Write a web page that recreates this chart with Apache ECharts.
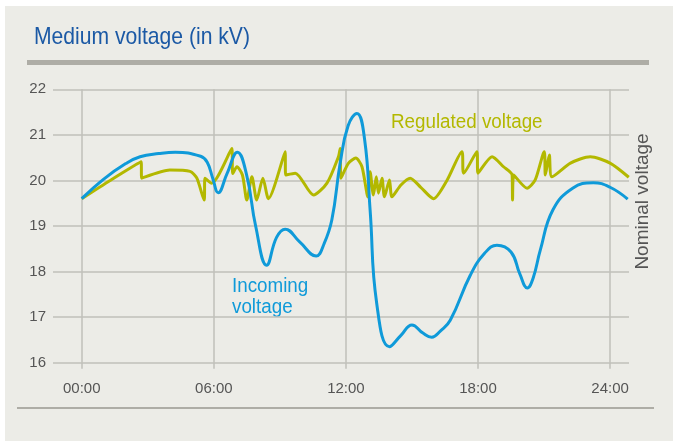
<!DOCTYPE html>
<html><head><meta charset="utf-8">
<script src="https://cdn.jsdelivr.net/npm/echarts@6/dist/echarts.min.js"></script>
<style>html,body{margin:0;padding:0;background:#fff}#c{width:673px;height:441px}</style>
</head><body><div id="c"></div>
<script>
// Time in hours, voltage in kV
const hourTicks = [0, 6, 12, 18, 24];
const tickLabels = ['00:00', '06:00', '12:00', '18:00', '24:00'];
const incomingHours = [0, 1, 2, 2.65, 3.5, 4.25, 5.4, 5.7, 5.95, 6.2, 6.6, 7.07, 7.5, 7.9, 8.4, 8.85, 9.24, 9.9, 10.65, 11.0, 11.36, 11.74, 12.1, 12.5, 12.85, 13.1, 13.4, 13.98, 14.5, 15.0, 15.5, 15.9, 16.3, 16.74, 17.65, 18.3, 18.86, 19.5, 19.9, 20.24, 20.5, 20.83, 21.4, 22.3, 23.24, 24.0, 24.8];
const incomingValues = [19.6, 20.03, 20.37, 20.52, 20.59, 20.62, 20.53, 20.4, 20.05, 19.73, 20.15, 20.62, 20.1, 19.0, 18.14, 18.75, 18.93, 18.65, 18.34, 18.6, 19.13, 20.38, 21.2, 21.47, 20.9, 19.35, 17.3, 16.35, 16.6, 16.83, 16.65, 16.56, 16.7, 16.93, 17.92, 18.4, 18.58, 18.43, 17.95, 17.64, 17.85, 18.47, 19.35, 19.83, 19.95, 19.85, 19.59];
const regulatedHours = [0, 1.29, 2.7, 2.72, 4.0, 4.92, 5.23, 5.56, 5.6, 5.9, 6.82, 6.86, 7.05, 7.3, 7.5, 7.73, 7.95, 8.23, 8.48, 9.24, 9.26, 9.7, 10.53, 11.14, 11.66, 11.74, 11.77, 12.12, 12.45, 12.73, 13.0, 13.1, 13.25, 13.38, 13.48, 13.64, 13.75, 13.98, 14.09, 14.5, 14.92, 15.4, 15.98, 16.59, 17.27, 17.35, 17.95, 18.0, 18.64, 19.16, 19.55, 19.57, 19.62, 20.23, 20.6, 21.01, 21.06, 21.24, 21.36, 22.2, 23.1, 24.0, 24.85];
const regulatedValues = [19.6, 20.0, 20.41, 20.05, 20.23, 20.2, 20.05, 19.57, 20.05, 19.94, 20.7, 20.15, 20.3, 20.12, 19.57, 20.08, 19.57, 20.05, 19.6, 20.63, 20.12, 20.16, 19.68, 19.94, 20.52, 20.7, 20.05, 20.38, 20.49, 20.3, 19.64, 20.19, 19.68, 20.08, 19.72, 20.05, 19.64, 20.01, 19.64, 19.9, 20.05, 19.85, 19.6, 20.0, 20.63, 20.16, 20.63, 20.16, 20.52, 20.3, 20.12, 19.57, 20.12, 19.83, 20.01, 20.63, 20.12, 20.56, 20.08, 20.38, 20.52, 20.38, 20.07];

const FONT = '"Liberation Sans", Arimo, sans-serif';
const BLUE = '#0f9ad9';
const OLIVE = '#b3b800';
const GRID = '#c0c0ba';
const TXT = '#555555';

const chart = echarts.init(document.getElementById('c'));
chart.setOption({
  backgroundColor: '#ffffff',
  animation: false,
  graphic: [
    {type: 'rect', left: 5, top: 6, shape: {width: 668, height: 435}, style: {fill: '#ecece7'}, z: -10},
    {type: 'text', x: 34, y: 37, scaleX: 0.88, style: {text: 'Medium voltage (in kV)', fill: '#1b59a5', font: '24px ' + FONT, verticalAlign: 'middle'}},
    {type: 'rect', left: 27, top: 60, shape: {width: 622, height: 5}, style: {fill: '#aeada6'}},
    {type: 'rect', left: 17, top: 407, shape: {width: 637, height: 2}, style: {fill: '#aeada6'}},
    {type: 'text', x: 391, y: 122, scaleX: 0.94, style: {text: 'Regulated voltage', fill: OLIVE, font: '20px ' + FONT, verticalAlign: 'middle'}},
    {type: 'text', x: 232, y: 286, scaleX: 0.94, style: {text: 'Incoming', fill: BLUE, font: '20px ' + FONT, verticalAlign: 'middle'}},
    {type: 'text', x: 232, y: 307, scaleX: 0.94, style: {text: 'voltage', fill: BLUE, font: '20px ' + FONT, verticalAlign: 'middle'}},
    {type: 'text', x: 643, y: 201.5, rotation: Math.PI / 2, style: {text: 'Nominal voltage', fill: TXT, font: '19px ' + FONT, align: 'center', verticalAlign: 'middle'}}
  ],
  grid: {left: 53, right: 44, top: 89.3, bottom: 78.3},
  xAxis: {
    type: 'value', min: -1.305, max: 24.86,
    axisLine: {show: false},
    axisTick: {show: true, customValues: hourTicks, length: 6, lineStyle: {color: GRID, width: 1.5}},
    axisLabel: {customValues: hourTicks, margin: 19, color: TXT, fontFamily: FONT, fontSize: 15,
      formatter: v => tickLabels[hourTicks.indexOf(v)]},
    splitLine: {show: true, lineStyle: {color: GRID, width: 1.5}}
  },
  yAxis: {
    type: 'value', min: 16, max: 22, interval: 1,
    axisLine: {show: false}, axisTick: {show: false},
    axisLabel: {margin: 7, color: TXT, fontFamily: FONT, fontSize: 15},
    splitLine: {show: true, lineStyle: {color: GRID, width: 1.5}}
  },
  series: [
    {type: 'line', name: 'Regulated', data: regulatedHours.map((h, i) => [h, regulatedValues[i]]),
      showSymbol: false, smooth: 0.25, lineStyle: {color: OLIVE, width: 3}, z: 2},
    {type: 'line', name: 'Incoming', data: incomingHours.map((h, i) => [h, incomingValues[i]]),
      showSymbol: false, smooth: 0.45, lineStyle: {color: BLUE, width: 3}, z: 3}
  ]
});
</script></body></html>
